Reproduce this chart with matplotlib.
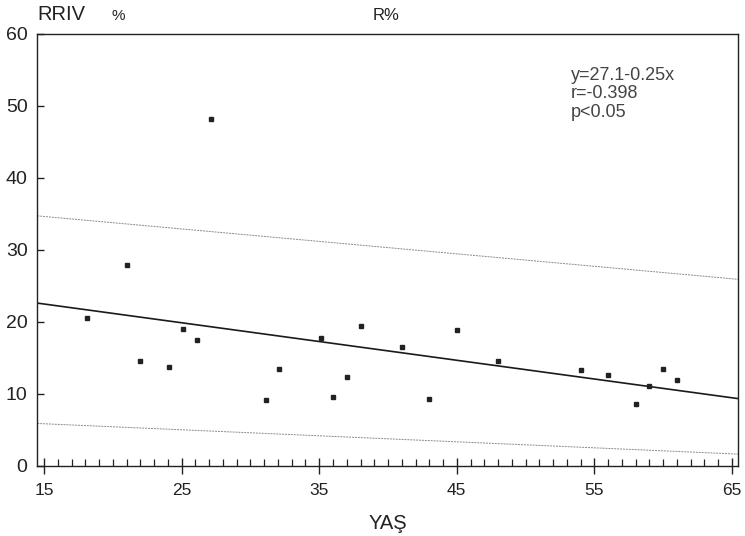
import matplotlib
matplotlib.use("Agg")
import matplotlib.pyplot as plt
from matplotlib.ticker import MultipleLocator, FixedLocator

plt.rcParams['font.family'] = ['Liberation Sans', 'DejaVu Sans']

# --- data ---
age = [18.1, 21.0, 22.0, 24.1, 25.1, 26.1, 27.1, 31.1, 32.1, 35.1, 36.0, 37.0,
       38.0, 41.0, 43.0, 45.0, 48.0, 54.0, 56.0, 58.0, 59.0, 60.0, 61.0]
rriv = [20.6, 27.9, 14.6, 13.8, 19.0, 17.5, 48.2, 9.2, 13.4, 17.8, 9.6, 12.4,
        19.4, 16.5, 9.25, 18.8, 14.6, 13.3, 12.6, 8.6, 11.1, 13.4, 11.9]

fit_x = [14.5, 65.45]
fit_y = [22.6, 9.35]
upper_y = [34.7, 25.9]
lower_y = [5.9, 1.65]

x_ticks = [15, 25, 35, 45, 55, 65]
y_ticks = [0, 10, 20, 30, 40, 50, 60]
stats_text = "y=27.1-0.25x\nr=-0.398\np<0.05"

# --- figure ---
fig = plt.figure(figsize=(7.45, 5.36), dpi=100)
ax = fig.add_axes([0.0501, 0.1306, 0.9405, 0.8069])

ax.plot(fit_x, upper_y, color='#8a8a8a', lw=0.7, ls=(0, (2, 1)))
ax.plot(fit_x, lower_y, color='#8a8a8a', lw=0.7, ls=(0, (2, 1)))
ax.plot(fit_x, fit_y, color='#1a1a1a', lw=1.2)
ax.plot(age, rriv, ls='none', marker='s', ms=3.5, color='#222222')

ax.set_xlim(14.5, 65.45)
ax.set_ylim(0, 60)

ax.xaxis.set_major_locator(FixedLocator(x_ticks))
ax.xaxis.set_minor_locator(MultipleLocator(1))
ax.yaxis.set_major_locator(FixedLocator(y_ticks))

ax.tick_params(axis='x', which='major', direction='inout', length=12, width=1.0,
               labelsize=12.5, pad=6, colors='#222222')
ax.tick_params(axis='x', which='minor', direction='in', length=5, width=0.9,
               colors='#222222')
ax.tick_params(axis='y', which='major', direction='in', length=5, width=1.0,
               labelsize=14, pad=7, colors='#222222')

for s in ax.spines.values():
    s.set_linewidth(1.0)
    s.set_color('#222222')

ax.set_xlabel('YAŞ', fontsize=14.5, color='#222222', labelpad=12)

fig.text(37 / 745, 1 - 15 / 536, 'RRIV', fontsize=14.5, color='#222222',
         ha='left', va='center')
fig.text(118 / 745, 1 - 16 / 536, '%', fontsize=11, color='#222222',
         ha='center', va='center')
fig.text(386 / 745, 1 - 15 / 536, 'R%', fontsize=12, color='#222222',
         ha='center', va='center')

ax.text(571 / 745, 1 - 67 / 536, stats_text, transform=fig.transFigure,
        fontsize=13, color='#444444', ha='left', va='top', linespacing=1.1)

fig.savefig('out.png', dpi=100)
